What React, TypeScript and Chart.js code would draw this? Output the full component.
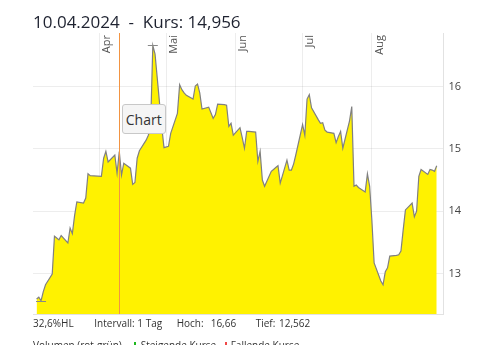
import { useEffect, useRef } from "react";
import { Chart, registerables } from "chart.js";

Chart.register(...registerables);

const YEAR = 2024;

const dates = [
  "03-04", "03-05", "03-06", "03-07", "03-08", "03-11", "03-12", "03-13", "03-14", "03-15",
  "03-18", "03-19", "03-20", "03-21", "03-22", "03-25", "03-26", "03-27", "03-28",
  "04-02", "04-03", "04-04", "04-05", "04-08", "04-09", "04-10", "04-11", "04-12",
  "04-15", "04-16", "04-17", "04-18", "04-19", "04-22", "04-23", "04-24", "04-25", "04-26",
  "04-29", "04-30", "05-02", "05-03", "05-06", "05-07", "05-08", "05-09", "05-10",
  "05-13", "05-14", "05-15", "05-16", "05-17", "05-20", "05-21", "05-22", "05-23", "05-24",
  "05-27", "05-28", "05-29", "05-30", "05-31", "06-03", "06-04", "06-05", "06-06", "06-07",
  "06-10", "06-11", "06-12", "06-13", "06-14", "06-17", "06-18", "06-19", "06-20", "06-21",
  "06-24", "06-25", "06-26", "06-27", "06-28", "07-01", "07-02", "07-03", "07-04", "07-05",
  "07-08", "07-09", "07-10", "07-11", "07-12", "07-15", "07-16", "07-17", "07-18", "07-19",
  "07-22", "07-23", "07-24", "07-25", "07-26", "07-29", "07-30", "07-31", "08-01", "08-02",
  "08-05", "08-06", "08-07", "08-08", "08-09", "08-12", "08-13", "08-14", "08-15", "08-16",
  "08-19", "08-20", "08-21", "08-22", "08-23", "08-26", "08-27", "08-28", "08-29", "08-30",
];

const prices = [
  12.59, 12.62, 12.562, 12.71, 12.82, 12.99, 13.6, 13.57, 13.54, 13.61,
  13.49, 13.73, 13.64, 13.93, 14.15, 14.13, 14.21, 14.6, 14.57,
  14.56, 14.85, 14.96, 14.79, 14.9, 14.61, 14.956, 14.58, 14.77,
  14.69, 14.43, 14.46, 14.85, 14.97, 15.14, 15.22, 15.35, 16.66, 16.52,
  15.35, 15.02, 15.04, 15.25, 15.57, 16.03, 15.95, 15.9, 15.86,
  15.8, 16.01, 16.04, 15.9, 15.64, 15.67, 15.58, 15.49, 15.55, 15.72,
  15.71, 15.7, 15.36, 15.41, 15.22, 15.34, 15.18, 15.01, 15.28, 15.28,
  15.27, 14.8, 14.96, 14.5, 14.4, 14.64, 14.67, 14.7, 14.73, 14.45,
  14.82, 14.66, 14.66, 14.76, 14.91, 15.39, 15.22, 15.8, 15.87, 15.66,
  15.47, 15.41, 15.42, 15.3, 15.27, 15.25, 15.1, 15.2, 15.28, 15.01,
  15.45, 15.68, 14.4, 14.42, 14.38, 14.31, 14.6, 14.4, 13.85, 13.17,
  12.88, 12.82, 13.03, 13.09, 13.28, 13.29, 13.3, 13.36, 13.7, 14.02,
  14.13, 13.91, 14.0, 14.56, 14.67, 14.59, 14.67, 14.66, 14.64, 14.73,
];

const monthStarts = ["04-01", "05-01", "06-01", "07-01", "08-01"];
const monthLabels = ["Apr", "Mai", "Jun", "Jul", "Aug"];
const priceTicks = [13, 14, 15, 16];
const selectedDate = "04-10";
const titleText = "10.04.2024\u00a0\u00a0-\u00a0\u00a0Kurs: 14,956";
const buttonText = "Chart";
const statTexts = ["32,6%HL", "Intervall: 1 Tag", "Hoch:", "16,66", "Tief:", "12,562"];
const legendTexts = ["Volumen (rot-grün)", "Steigende Kurse", "Fallende Kurse"];

// layout (positions only)
const statLefts = [33, 94.3, 176.7, 210.7, 255.7, 279];
const legendLefts = [33, 140.7, 230.7];
const legendBarLefts = [134.3, 225];
const legendBarColors = ["#1fb81f", "#f04848"];

const FONT = "'Open Sans', 'Noto Sans', sans-serif";

function dayOf(mmdd: string): number {
  const [m, d] = mmdd.split("-").map(Number);
  return (Date.UTC(YEAR, m - 1, d) - Date.UTC(YEAR, 3, 1)) / 86400000;
}

const overlayPlugin = {
  id: "overlay",
  afterDraw(chart: any) {
    const { ctx, chartArea, scales } = chart;
    const xs = scales.x;
    const ys = scales.y;
    ctx.save();
    // month labels
    ctx.fillStyle = "#555";
    ctx.font = `11px ${FONT}`;
    ctx.textAlign = "right";
    ctx.textBaseline = "top";
    monthStarts.forEach((d, i) => {
      const x = xs.getPixelForValue(dayOf(d));
      ctx.save();
      ctx.translate(x + 2, chartArea.top + 2);
      ctx.rotate(-Math.PI / 2);
      ctx.fillText(monthLabels[i], 0, 0);
      ctx.restore();
    });
    // crosshair
    const cx = Math.round(xs.getPixelForValue(dayOf(selectedDate))) + 0.5;
    ctx.strokeStyle = "rgb(242,148,66)";
    ctx.lineWidth = 1;
    ctx.beginPath();
    ctx.moveTo(cx, chartArea.top);
    ctx.lineTo(cx, chartArea.bottom);
    ctx.stroke();
    // high / low markers
    let hi = 0;
    let lo = 0;
    prices.forEach((p, i) => {
      if (p > prices[hi]) hi = i;
      if (p < prices[lo]) lo = i;
    });
    ctx.strokeStyle = "#888";
    [hi, lo].forEach((idx) => {
      const px = xs.getPixelForValue(dayOf(dates[idx]));
      const py = Math.round(ys.getPixelForValue(prices[idx])) + 0.5;
      ctx.beginPath();
      ctx.moveTo(px - 5, py);
      ctx.lineTo(px + 5, py);
      ctx.stroke();
    });
    ctx.restore();
  },
};

export default function App() {
  const canvasRef = useRef<HTMLCanvasElement | null>(null);

  useEffect(() => {
    if (!canvasRef.current) return;
    const chart = new Chart(canvasRef.current, {
      type: "line",
      data: {
        datasets: [
          {
            data: dates.map((d, i) => ({ x: dayOf(d), y: prices[i] })),
            borderColor: "#808080",
            borderWidth: 1.2,
            backgroundColor: "#fff200",
            fill: "start",
            pointRadius: 0,
            tension: 0,
          },
        ],
      },
      options: {
        responsive: false,
        animation: false,
        devicePixelRatio: 1,
        events: [],
        layout: { padding: { left: 33, top: 33, right: 21, bottom: 31 } },
        plugins: { legend: { display: false }, tooltip: { enabled: false }, title: { display: false } },
        scales: {
          x: {
            type: "linear",
            min: -29.6,
            max: 154,
            z: 1,
            afterBuildTicks: (s: any) => {
              s.ticks = monthStarts.map((d) => ({ value: dayOf(d) }));
            },
            ticks: { display: false },
            grid: { color: "rgba(0,0,0,0.07)", drawTicks: false },
            border: { display: true, color: "#e2e2e2" },
          },
          y: {
            position: "right",
            min: 12.35,
            max: 16.86,
            z: 1,
            afterBuildTicks: (s: any) => {
              s.ticks = priceTicks.map((v) => ({ value: v }));
            },
            ticks: {
              padding: 5,
              color: "#444",
              font: { family: FONT, size: 11 },
              callback: (v: any) => String(v),
            },
            grid: { color: "rgba(0,0,0,0.07)", drawTicks: false },
            border: { display: true, color: "#e2e2e2" },
          },
        },
      },
      plugins: [overlayPlugin],
    } as any);
    return () => chart.destroy();
  }, []);

  const textBase: any = {
    position: "absolute",
    fontFamily: FONT,
    whiteSpace: "nowrap",
    color: "#333",
  };

  return (
    <div
      style={{
        position: "fixed",
        left: 0,
        top: 0,
        width: 487,
        height: 345,
        overflow: "hidden",
        background: "#fff",
      }}
    >
      <canvas ref={canvasRef} width={487} height={345} style={{ position: "absolute", left: 0, top: 0 }} />
      <div style={{ ...textBase, left: 33, top: 13, fontSize: 17, lineHeight: "17px", color: "#1e2230" }}>
        {titleText}
      </div>
      {statTexts.map((t, i) => (
        <div key={t} style={{ ...textBase, left: statLefts[i], top: 318, fontSize: 10, lineHeight: "10px" }}>
          {t}
        </div>
      ))}
      {legendTexts.map((t, i) => (
        <div key={t} style={{ ...textBase, left: legendLefts[i], top: 340, fontSize: 10, lineHeight: "10px" }}>
          {t}
        </div>
      ))}
      {legendBarLefts.map((l, i) => (
        <div
          key={l}
          style={{ position: "absolute", left: l, top: 342, width: 2, height: 8, background: legendBarColors[i] }}
        />
      ))}
      <div
        style={{
          position: "absolute",
          left: 121.7,
          top: 104,
          width: 44,
          height: 30,
          boxSizing: "border-box",
          border: "1px solid #c8c8c8",
          borderRadius: 3,
          background: "#f5f5f5",
          fontFamily: FONT,
          fontSize: 14,
          color: "#333",
          display: "flex",
          alignItems: "center",
          justifyContent: "center",
        }}
      >
        {buttonText}
      </div>
    </div>
  );
}
